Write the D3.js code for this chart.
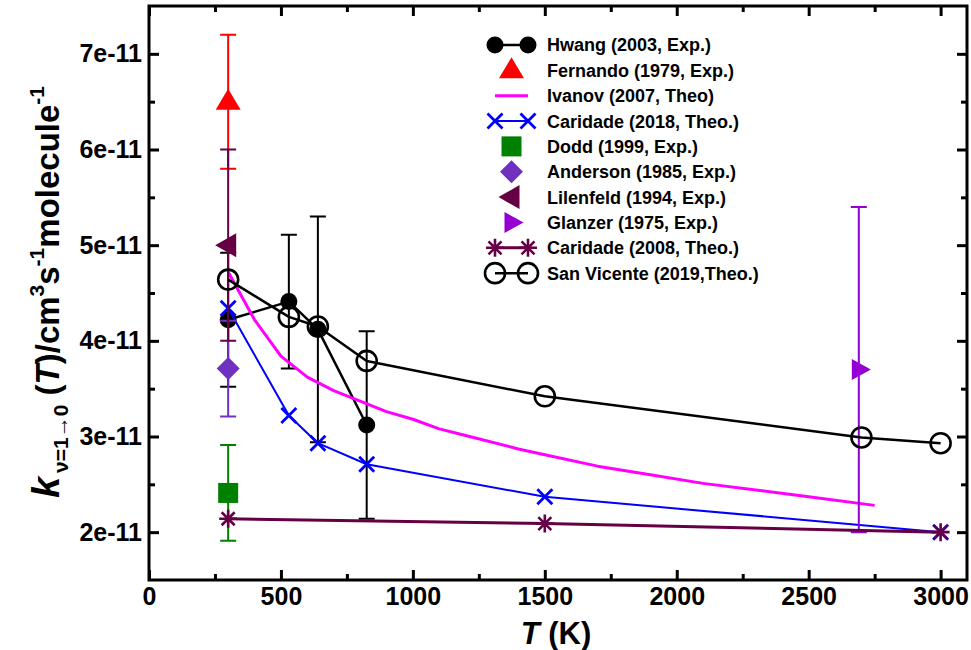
<!DOCTYPE html>
<html><head><meta charset="utf-8">
<script src="https://cdn.jsdelivr.net/npm/d3@7"></script>
<style>body{margin:0;background:#fff}text{font-family:"Liberation Sans",Arial,Helvetica,sans-serif;font-weight:bold}</style>
</head><body><svg id="c" width="971" height="650"></svg>
<script>
// ---- data (k in units of 1e-11 cm^3 s^-1 molecule^-1) ----
const hwangT = [300, 530, 640, 825];
const hwangK = [4.22, 4.41, 4.12, 3.12];
const hwangErr = [0.7, 0.7, 1.18, 0.98];
const fernandoT = [300];
const fernandoK = [6.5];
const fernandoErr = [0.7];
const ivanovT = [300, 400, 500, 600, 700, 800, 900, 1000, 1100, 1200, 1400, 1500, 1700, 1900, 2100, 2300, 2500, 2750];
const ivanovK = [4.72, 4.22, 3.84, 3.62, 3.48, 3.37, 3.26, 3.18, 3.08, 3.01, 2.87, 2.81, 2.69, 2.60, 2.51, 2.44, 2.37, 2.28];
const caridade18T = [300, 530, 640, 825, 1500, 3000];
const caridade18K = [4.34, 3.22, 2.93, 2.71, 2.37, 2.0];
const doddT = [300];
const doddK = [2.41];
const doddErr = [0.5];
const andersonT = [300];
const andersonK = [3.71];
const andersonErr = [0.5];
const lilenfeldT = [300];
const lilenfeldK = [5.0];
const lilenfeldErr = [1.0];
const glanzerT = [2690];
const glanzerK = [3.7];
const glanzerErr = [1.7];
const caridade08T = [300, 1500, 3000];
const caridade08K = [2.14, 2.09, 2.0];
const sanVicenteT = [300, 530, 640, 825, 1500, 2700, 3000];
const sanVicenteK = [4.64, 4.25, 4.15, 3.79, 3.42, 2.99, 2.93];
const xTicks = [0, 500, 1000, 1500, 2000, 2500, 3000];
const yTicks = [2, 3, 4, 5, 6, 7];
const legendLabels = ["Hwang (2003, Exp.)", "Fernando (1979, Exp.)", "Ivanov (2007, Theo)", "Caridade (2018, Theo.)",
  "Dodd (1999, Exp.)", "Anderson (1985, Exp.)", "Lilenfeld (1994, Exp.)", "Glanzer (1975, Exp.)",
  "Caridade (2008, Theo.)", "San Vicente (2019,Theo.)"];

const MAROON = "#660044";
const series = [
  {T: hwangT, K: hwangK, err: hwangErr, color: "#000", marker: "circleFilled", line: true, lw: 2.5},
  {T: fernandoT, K: fernandoK, err: fernandoErr, color: "#ff0000", marker: "triUp", line: false},
  {T: ivanovT, K: ivanovK, color: "#ff00ff", marker: null, line: true, lw: 3},
  {T: caridade18T, K: caridade18K, color: "#0000ff", marker: "x", line: true, lw: 2},
  {T: doddT, K: doddK, err: doddErr, color: "#008000", marker: "square", line: false},
  {T: andersonT, K: andersonK, err: andersonErr, color: "#7030c0", marker: "diamond", line: false},
  {T: lilenfeldT, K: lilenfeldK, err: lilenfeldErr, color: MAROON, marker: "triLeft", line: false},
  {T: glanzerT, K: glanzerK, err: glanzerErr, color: "#9400d3", marker: "triRight", line: false},
  {T: caridade08T, K: caridade08K, color: MAROON, marker: "asterisk", line: true, lw: 3},
  {T: sanVicenteT, K: sanVicenteK, color: "#000", marker: "circleOpen", line: true, lw: 2.5}
];

const svg = d3.select("#c");
const L = 149, R = 967, TOP = 6, B = 580;
const x = d3.scaleLinear().domain([0, 3100]).range([L, R]);
const y = d3.scaleLinear().domain([1.5, 7.5]).range([B, TOP]);

function drawMarker(g, type, cx, cy, color) {
  if (!type) return;
  if (type === "circleFilled") g.append("circle").attr("cx", cx).attr("cy", cy).attr("r", 8.5).attr("fill", color);
  else if (type === "circleOpen") g.append("circle").attr("cx", cx).attr("cy", cy).attr("r", 10).attr("fill", "none").attr("stroke", color).attr("stroke-width", 2.6);
  else if (type === "triUp") g.append("path").attr("d", `M${cx},${cy-13}L${cx+12.5},${cy+8}L${cx-12.5},${cy+8}Z`).attr("fill", color);
  else if (type === "triLeft") g.append("path").attr("d", `M${cx-13},${cy}L${cx+8},${cy-12}L${cx+8},${cy+12}Z`).attr("fill", color);
  else if (type === "triRight") g.append("path").attr("d", `M${cx+12},${cy}L${cx-7},${cy-10.5}L${cx-7},${cy+10.5}Z`).attr("fill", color);
  else if (type === "square") g.append("rect").attr("x", cx-10).attr("y", cy-10).attr("width", 20).attr("height", 20).attr("fill", color);
  else if (type === "diamond") g.append("path").attr("d", `M${cx},${cy-11.5}L${cx+11.5},${cy}L${cx},${cy+11.5}L${cx-11.5},${cy}Z`).attr("fill", color);
  else if (type === "x") g.append("path").attr("d", `M${cx-7.5},${cy-7.5}L${cx+7.5},${cy+7.5}M${cx-7.5},${cy+7.5}L${cx+7.5},${cy-7.5}`).attr("stroke", color).attr("stroke-width", 2.8);
  else if (type === "asterisk") g.append("path").attr("d", `M${cx},${cy-9}L${cx},${cy+9}M${cx-9},${cy}L${cx+9},${cy}M${cx-6.5},${cy-6.5}L${cx+6.5},${cy+6.5}M${cx-6.5},${cy+6.5}L${cx+6.5},${cy-6.5}`).attr("stroke", color).attr("stroke-width", 2.6);
}

// ---- plot series ----
const plot = svg.append("g");
series.forEach(s => {
  const g = plot.append("g");
  const pts = s.T.map((t, i) => [t, s.K[i]]);
  if (s.line) {
    g.append("path").datum(pts)
      .attr("d", d3.line().x(d => x(d[0])).y(d => y(d[1])))
      .attr("fill", "none").attr("stroke", s.color).attr("stroke-width", s.lw).attr("stroke-linejoin", "round");
  }
  if (s.err) {
    s.T.forEach((t, i) => {
      const xx = x(t), y1 = y(s.K[i] + s.err[i]), y0 = y(s.K[i] - s.err[i]);
      g.append("path").attr("d", `M${xx},${y0}L${xx},${y1}M${xx-8},${y1}L${xx+8},${y1}M${xx-8},${y0}L${xx+8},${y0}`)
        .attr("stroke", s.color).attr("stroke-width", 2).attr("fill", "none");
    });
  }
  s.T.forEach((t, i) => drawMarker(g, s.marker, x(t), y(s.K[i]), s.color));
});

// ---- axes ----
const fmt = d => d + "e-11";
const ax = svg.append("g").attr("transform", `translate(0,${B})`)
  .call(d3.axisBottom(x).tickValues(xTicks).tickSizeInner(-10).tickSizeOuter(0).tickPadding(7).tickFormat(d3.format("d")));
const axm = svg.append("g").attr("transform", `translate(0,${B})`)
  .call(d3.axisBottom(x).tickValues(d3.range(250, 3100, 500)).tickSizeInner(-6).tickSizeOuter(0).tickFormat(""));
const axt = svg.append("g").attr("transform", `translate(0,${TOP})`)
  .call(d3.axisTop(x).tickValues(xTicks).tickSizeInner(-10).tickSizeOuter(0).tickFormat(""));
const axtm = svg.append("g").attr("transform", `translate(0,${TOP})`)
  .call(d3.axisTop(x).tickValues(d3.range(250, 3100, 500)).tickSizeInner(-6).tickSizeOuter(0).tickFormat(""));
const ay = svg.append("g").attr("transform", `translate(${L},0)`)
  .call(d3.axisLeft(y).tickValues(yTicks).tickSizeInner(-10).tickSizeOuter(0).tickPadding(7).tickFormat(fmt));
const aym = svg.append("g").attr("transform", `translate(${L},0)`)
  .call(d3.axisLeft(y).tickValues(d3.range(2.5, 7.5, 1)).tickSizeInner(-6).tickSizeOuter(0).tickFormat(""));
const ayr = svg.append("g").attr("transform", `translate(${R},0)`)
  .call(d3.axisRight(y).tickValues(yTicks).tickSizeInner(-10).tickSizeOuter(0).tickFormat(""));
const ayrm = svg.append("g").attr("transform", `translate(${R},0)`)
  .call(d3.axisRight(y).tickValues(d3.range(2.5, 7.5, 1)).tickSizeInner(-6).tickSizeOuter(0).tickFormat(""));
[ax, axm, axt, axtm, ay, aym, ayr, ayrm].forEach(a => {
  a.select(".domain").remove();
  a.selectAll("line").attr("stroke", "#000").attr("stroke-width", 3);
  a.selectAll("text").attr("fill", "#000").style("font-size", "25px").style("font-weight", "bold")
    .style("font-family", '"Liberation Sans",Arial,sans-serif');
});
svg.append("rect").attr("x", L).attr("y", TOP).attr("width", R - L).attr("height", B - TOP)
  .attr("fill", "none").attr("stroke", "#000").attr("stroke-width", 3);

// ---- axis titles ----
const xt = svg.append("text").attr("x", 556).attr("y", 644).attr("text-anchor", "middle").style("font-size", "31px");
xt.append("tspan").text("T").style("font-style", "italic");
xt.append("tspan").text(" (K)");

const yt = svg.append("text").attr("transform", "translate(59,292) rotate(-90)").attr("text-anchor", "middle").style("font-size", "33px");
yt.append("tspan").text("k").style("font-style", "italic").style("font-size", "38px");
yt.append("tspan").text("ν=1→0").style("font-size", "21px").attr("dy", 9).attr("dx", 4);
yt.append("tspan").text(" (").attr("dy", -9);
yt.append("tspan").text("T").style("font-style", "italic");
yt.append("tspan").text(")/cm");
yt.append("tspan").text("3").style("font-size", "21px").attr("dy", -15);
yt.append("tspan").text("s").attr("dy", 15);
yt.append("tspan").text("-1").style("font-size", "21px").attr("dy", -15);
yt.append("tspan").text("molecule").attr("dy", 15);
yt.append("tspan").text("-1").style("font-size", "21px").attr("dy", -15);

// ---- legend ----
const lg = svg.append("g");
series.forEach((s, i) => {
  const cy = 45 + i * 25.35;
  const g = lg.append("g");
  if (s.line) {
    g.append("line").attr("x1", 495).attr("x2", 528).attr("y1", cy).attr("y2", cy)
      .attr("stroke", s.color).attr("stroke-width", s.lw);
    if (s.marker) { drawMarker(g, s.marker, 495, cy, s.color); drawMarker(g, s.marker, 528, cy, s.color); }
  } else {
    drawMarker(g, s.marker, 511.5, cy, s.color);
  }
  g.append("text").attr("x", 547).attr("y", cy).attr("dy", "0.36em").style("font-size", "18px").text(legendLabels[i]);
});
</script></body></html>
